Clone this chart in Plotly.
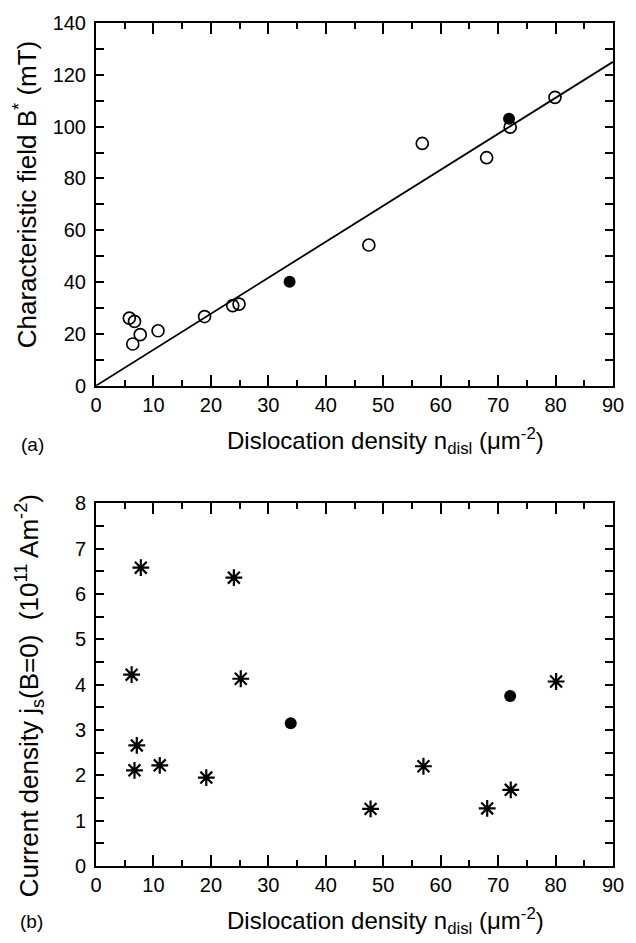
import plotly.graph_objects as go

# ---- data (panel a): characteristic field B* (mT) vs dislocation density ----
a_open_x = [5.8, 6.7, 6.4, 7.7, 10.8, 18.9, 23.8, 24.9, 47.5, 56.8, 68.0, 72.1, 79.9]
a_open_y = [26.1, 24.8, 16.1, 19.7, 21.2, 26.7, 30.9, 31.5, 54.3, 93.5, 88.0, 99.8, 111.3]
a_fill_x = [33.7, 71.9]
a_fill_y = [40.1, 103.0]
fit_x = [0, 90]
fit_y = [0, 125]

# ---- data (panel b): current density j_s(B=0) vs dislocation density ----
b_star_x = [7.8, 24.0, 6.2, 25.2, 7.1, 6.7, 11.1, 19.2, 80.1, 57.0, 72.2, 47.8, 68.1]
b_star_y = [6.58, 6.36, 4.22, 4.13, 2.66, 2.11, 2.22, 1.95, 4.07, 2.20, 1.68, 1.26, 1.27]
b_fill_x = [33.9, 72.1]
b_fill_y = [3.15, 3.75]

x_ticks = [0, 10, 20, 30, 40, 50, 60, 70, 80, 90]
ya_ticks = [0, 20, 40, 60, 80, 100, 120, 140]
yb_ticks = [0, 1, 2, 3, 4, 5, 6, 7, 8]

FONT = "Liberation Sans, Arial, Helvetica, sans-serif"
W, H = 636, 943
L, R, T, B = 96, 13, 13, 77
PW = W - L - R
PH = H - T - B


def px(x):
    return (x - L) / PW


def py(y):
    return (H - B - y) / PH


fig = go.Figure()
fig.add_trace(go.Scatter(x=fit_x, y=fit_y, mode="lines",
                         line=dict(color="black", width=1.8),
                         xaxis="x", yaxis="y", showlegend=False))
fig.add_trace(go.Scatter(x=a_open_x, y=a_open_y, mode="markers",
                         marker=dict(symbol="circle-open", size=12, color="black",
                                     line=dict(width=1.7, color="black")),
                         xaxis="x", yaxis="y", showlegend=False))
fig.add_trace(go.Scatter(x=a_fill_x, y=a_fill_y, mode="markers",
                         marker=dict(symbol="circle", size=12, color="black"),
                         xaxis="x", yaxis="y", showlegend=False))
fig.add_trace(go.Scatter(x=b_star_x, y=b_star_y, mode="markers",
                         marker=dict(symbol="asterisk-open", size=14, color="black",
                                     line=dict(width=2.2, color="black")),
                         xaxis="x2", yaxis="y2", showlegend=False))
fig.add_trace(go.Scatter(x=b_fill_x, y=b_fill_y, mode="markers",
                         marker=dict(symbol="circle", size=12, color="black"),
                         xaxis="x2", yaxis="y2", showlegend=False))

top_lo = py(380)
bot_hi = py(499)

common_x = dict(range=[0, 90], tickvals=x_ticks, ticks="inside", ticklen=11, tickwidth=1.6,
                tickcolor="black", showline=True, linewidth=2, linecolor="black",
                mirror="allticks", showgrid=False, zeroline=False,
                tickfont=dict(family=FONT, size=20, color="black"),
                minor=dict(dtick=5, ticks="inside", ticklen=6, tickwidth=1.6,
                           tickcolor="black", showgrid=False))
common_y = dict(ticks="inside", ticklen=8, tickwidth=1.6, tickcolor="black",
                showline=True, linewidth=2, linecolor="black", mirror="allticks",
                showgrid=False, zeroline=False, ticklabelstandoff=4,
                tickfont=dict(family=FONT, size=20, color="black"))

fig.update_layout(
    width=W, height=H,
    margin=dict(l=L, r=R, t=T, b=B),
    paper_bgcolor="white", plot_bgcolor="white",
    font=dict(family=FONT, color="black"),
    xaxis=dict(domain=[0, 1], anchor="y", **common_x),
    yaxis=dict(domain=[top_lo, 1], anchor="x", range=[0, 140], tickvals=ya_ticks,
               minor=dict(dtick=10, ticks="inside", ticklen=8, tickwidth=1.6,
                          tickcolor="black", showgrid=False),
               **common_y),
    xaxis2=dict(domain=[0, 1], anchor="y2", **common_x),
    yaxis2=dict(domain=[0, bot_hi], anchor="x2", range=[0, 8], tickvals=yb_ticks,
                minor=dict(dtick=0.5, ticks="inside", ticklen=8, tickwidth=1.6,
                           tickcolor="black", showgrid=False),
                **common_y),
)

xtitle = "Dislocation density n<sub>disl</sub> (μm<sup>-2</sup>)"
anns = [
    dict(text=xtitle, x=px(391), y=py(436), font=dict(size=24)),
    dict(text=xtitle, x=px(391), y=py(922), font=dict(size=24)),
    dict(text="(a)", x=px(31), y=py(440), font=dict(size=19)),
    dict(text="(b)", x=px(30), y=py(922), font=dict(size=19)),
    dict(text="Characteristic field B<sup>*</sup> (mT)", x=px(25), y=py(186),
         textangle=-90, font=dict(size=26)),
    dict(text="Current density j<sub>s</sub>(B=0)  (10<sup>11</sup> Am<sup>-2</sup>)",
         x=px(28), y=py(694), textangle=-90, font=dict(size=26)),
]
for a in anns:
    a.update(xref="paper", yref="paper", showarrow=False, xanchor="center",
             yanchor="middle")
    a["font"].update(family=FONT, color="black")
fig.update_layout(annotations=anns)

fig.write_html("out.html")
